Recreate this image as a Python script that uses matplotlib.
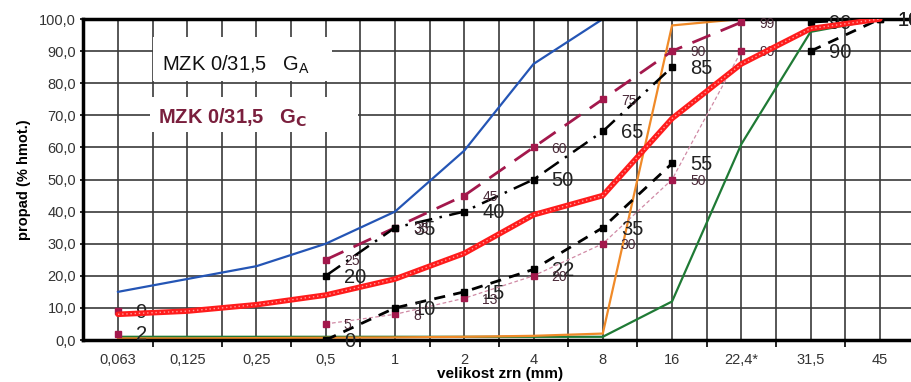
import numpy as np
import matplotlib.pyplot as plt
from matplotlib.patches import Rectangle

plt.rcParams['font.family'] = ['Liberation Sans', 'DejaVu Sans']

# sita (mm)
sieves = ['0,063', '0,125', '0,25', '0,5', '1', '2', '4', '8', '16', '22,4*', '31,5', '45']
x = np.arange(len(sieves))
nan = np.nan

# hranicni krivky
blue_curve = [15, 19, 23, 30, 40, 59, 86, 100, 100, 100, 100, 100]
green_curve = [1, 1, 1, 1, 1, 1, 1, 1, 12, 61, 96, 100]
orange_curve = [0.5, 0.5, 0.6, 0.7, 0.8, 1, 1.3, 2, 98, 100, 100, 100]
red_curve = [8, 9, 11, 14, 19, 27, 39, 45, 69, 86, 97, 100]

# body se stitky
black_upper = [nan, nan, nan, 20, 35, 40, 50, 65, 85, nan, 99, 100]
maroon_upper = [nan, nan, nan, 25, 35, 45, 60, 75, 90, 99, nan, nan]
black_lower = [nan, nan, nan, 0, 10, 15, 22, 35, 55, nan, 90, 100]
maroon_lower = [nan, nan, nan, 5, 8, 13, 20, 30, 50, 90, nan, nan]
fines_x = [0, 0]
fines_y = [9, 2]

fig = plt.figure(figsize=(9.11, 3.82), dpi=100)
ax = fig.add_axes([83 / 911, 42 / 382, 828 / 911, 321 / 382])
ax.set_axisbelow(True)

ax.plot(x, blue_curve, color='#2455b5', lw=1.6, zorder=2)
ax.plot(x, green_curve, color='#1f7a35', lw=1.6, zorder=2)
ax.plot(x, orange_curve, color='#f08a28', lw=1.6, zorder=2)

maroon = '#a3184c'
ax.plot(x, maroon_upper, color=maroon, lw=2, ls=(0, (7, 4)), marker='s', ms=5, zorder=3)
ax.plot(x, maroon_lower, color='#d08aa5', lw=0.9, ls=(0, (3, 2)), marker='s', ms=5,
        mfc=maroon, mec=maroon, zorder=3)
ax.plot(x, black_upper, color='black', lw=1.8, ls=(0, (7, 3, 1, 3)), marker='s', ms=5, zorder=3)
ax.plot(x, black_lower, color='black', lw=2, ls=(0, (4, 3)), marker='s', ms=5, zorder=3)
ax.plot(fines_x, fines_y, ls='none', marker='s', ms=5, color=maroon, zorder=3)

ax.plot(x, red_curve, color='#ff1c1c', lw=4, zorder=4, solid_capstyle='round')
ax.plot(x, red_curve, color='#ff9c9c', lw=1, ls=(0, (1, 2)), zorder=4)

# stitky hodnot
def label_points(xs, ys, size, color):
    for xi, yi in zip(xs, ys):
        if np.isnan(yi):
            continue
        ax.annotate(f'{yi:g}', (xi, yi), xytext=(13, -1), textcoords='offset points',
                    ha='left', va='center', fontsize=size, color=color, zorder=3.5)

label_points(x, black_upper, 14.5, '#222222')
label_points(x, black_lower, 14.5, '#222222')
label_points(fines_x, fines_y, 14.5, '#222222')
label_points(x, maroon_upper, 10, '#4a2a38')
label_points(x, maroon_lower, 10, '#4a2a38')

# popisky pasem
ax.add_patch(Rectangle((0.0845, 0.807), 0.216, 0.137, transform=ax.transAxes,
                       fc='white', ec='none', zorder=1.5))
ax.add_patch(Rectangle((0.081, 0.648), 0.251, 0.109, transform=ax.transAxes,
                       fc='white', ec='none', zorder=1.5))
ax.text(0.0954, 0.857, r'MZK 0/31,5   G$_{\mathregular{A}}$', transform=ax.transAxes,
        fontsize=14.5, va='center', ha='left', color='#111111', zorder=5)
ax.text(0.0906, 0.692, r'MZK 0/31,5   G$_{\mathbf{C}}$', transform=ax.transAxes,
        fontsize=14.5, fontweight='bold', va='center', ha='left', color='#7a1f3d', zorder=5)

ax.set_xlim(-0.505, 11.45)
ax.set_ylim(0, 100)
ax.set_xticks(x)
ax.set_xticklabels(sieves, fontsize=10.5, color='#333333')
ax.set_xticks(x[:-1] + 0.5, minor=True)
ax.set_yticks(np.arange(0, 101, 10))
ax.set_yticklabels([f'{v},0' for v in range(0, 101, 10)], fontsize=10.5, color='#333333')
ax.tick_params(axis='x', which='major', length=0, pad=9)
ax.tick_params(axis='x', which='minor', length=5, width=1.2)
ax.tick_params(axis='y', length=2, width=1.2, pad=3)

ax.grid(which='both', axis='x', color='#3a3a3a', lw=1.2)
ax.grid(which='major', axis='y', color='#3a3a3a', lw=1.2)

for side in ['left', 'bottom', 'top']:
    ax.spines[side].set_linewidth(2.5)
ax.spines['right'].set_visible(False)

ax.set_ylabel('propad (% hmot.)', fontsize=10.5, fontweight='bold', labelpad=6)
ax.set_xlabel('velikost zrn (mm)', fontsize=11, fontweight='bold')
ax.xaxis.set_label_coords((500 - 83) / 828, -0.085)

fig.savefig('out.png', dpi=100)
